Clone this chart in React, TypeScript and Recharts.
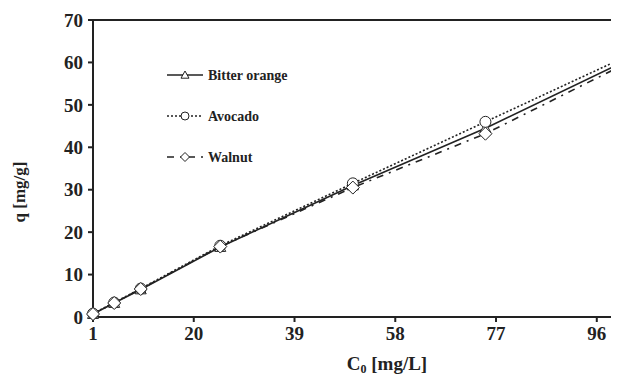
import React from "react";
import {
  Line,
  LineChart,
  ReferenceLine,
  XAxis,
  YAxis,
} from "recharts";

// concentrations and uptake
const c0 = [1, 5, 10, 25, 50, 75, 100];
const bitterOrange = [0.7, 3.3, 6.5, 16.5, 31.0, 44.5, 59.5];
const avocado = [0.8, 3.4, 6.7, 16.8, 31.5, 46.0, 60.5];
const walnut = [0.7, 3.3, 6.6, 16.6, 30.5, 43.2, 58.8];

const xTicks = [1, 20, 39, 58, 77, 96];
const yTicks = [0, 10, 20, 30, 40, 50, 60, 70];

const data = c0.map((c, i) => ({
  c0: c,
  bitter: bitterOrange[i],
  avocado: avocado[i],
  walnut: walnut[i],
}));

const font = "'Liberation Serif', 'Times New Roman', serif";

// open markers
function Marker({ cx, cy, shape, r = 5.5 }: { cx: number; cy: number; shape: string; r?: number }) {
  if (shape === "triangle") {
    return (
      <polygon
        points={`${cx},${cy - r} ${cx + r},${cy + r * 0.8} ${cx - r},${cy + r * 0.8}`}
        fill="#fff"
        stroke="#222"
        strokeWidth={1}
      />
    );
  }
  if (shape === "circle") {
    return <circle cx={cx} cy={cy} r={r} fill="#fff" stroke="#222" strokeWidth={1} />;
  }
  return (
    <polygon
      points={`${cx},${cy - r - 1} ${cx + r + 1},${cy} ${cx},${cy + r + 1} ${cx - r - 1},${cy}`}
      fill="#fff"
      stroke="#222"
      strokeWidth={1}
    />
  );
}

const dot = (shape: string) => (p: any) =>
  <Marker key={`${shape}-${p.index}`} cx={p.cx} cy={p.cy} shape={shape} />;

const series = [
  { key: "bitter", name: "Bitter orange", dash: undefined, shape: "triangle" },
  { key: "avocado", name: "Avocado", dash: "2 2", shape: "circle" },
  { key: "walnut", name: "Walnut", dash: "7 6 2 6", shape: "diamond" },
];

function LegendBox() {
  return (
    <svg width={190} height={110} style={{ position: "absolute", left: 160, top: 62 }}>
      {series.map((s, i) => {
        const y = 13 + i * 41;
        return (
          <g key={s.key}>
            <line x1={7} x2={43} y1={y} y2={y} stroke="#222" strokeWidth={1.5} strokeDasharray={s.dash} />
            <Marker cx={25} cy={y} shape={s.shape} r={s.shape === "diamond" ? 3.5 : 4} />
            <text x={48} y={y + 5} fontFamily={font} fontWeight="bold" fontSize={14} fill="#222">
              {s.name}
            </text>
          </g>
        );
      })}
    </svg>
  );
}

export default function App() {
  return (
    <div style={{ position: "relative", margin: "-8px 0 0 -8px", width: 619, height: 378 }}>
      <LineChart
        width={619}
        height={378}
        data={data}
        margin={{ top: 20, right: 1, left: 0, bottom: 0 }}
      >
        <XAxis
          dataKey="c0"
          type="number"
          domain={[1, 100]}
          ticks={xTicks}
          height={61}
          stroke="#222"
          strokeWidth={2}
          tickSize={5}
          tickMargin={5}
          tick={{ fontFamily: font, fontWeight: "bold", fontSize: 19, fill: "#222" }}
          label={() => (
            <text x={387} y={370} textAnchor="middle" fontFamily={font} fontWeight="bold" fontSize={19} fill="#222">
              C
              <tspan fontSize={12} dy={3}>0</tspan>
              <tspan dy={-3}> [mg/L]</tspan>
            </text>
          )}
        />
        <YAxis
          type="number"
          domain={[0, 70]}
          ticks={yTicks}
          width={93}
          stroke="#222"
          strokeWidth={2}
          tickSize={5}
          tickMargin={5}
          tick={{ fontFamily: font, fontWeight: "bold", fontSize: 19, fill: "#222" }}
          label={() => (
            <text
              x={25}
              y={192}
              transform="rotate(-90, 25, 192)"
              textAnchor="middle"
              fontFamily={font}
              fontWeight="bold"
              fontSize={17}
              fill="#222"
            >
              q [mg/g]
            </text>
          )}
        />
        <ReferenceLine y={70} stroke="#222" strokeWidth={2} />
        <ReferenceLine x={100} stroke="#222" strokeWidth={2} />
        {series.map((s) => (
          <Line
            key={s.key}
            dataKey={s.key}
            name={s.name}
            type="linear"
            stroke="#222"
            strokeWidth={1.6}
            strokeDasharray={s.dash}
            dot={dot(s.shape)}
            activeDot={false}
            isAnimationActive={false}
          />
        ))}
      </LineChart>
      <LegendBox />
    </div>
  );
}
